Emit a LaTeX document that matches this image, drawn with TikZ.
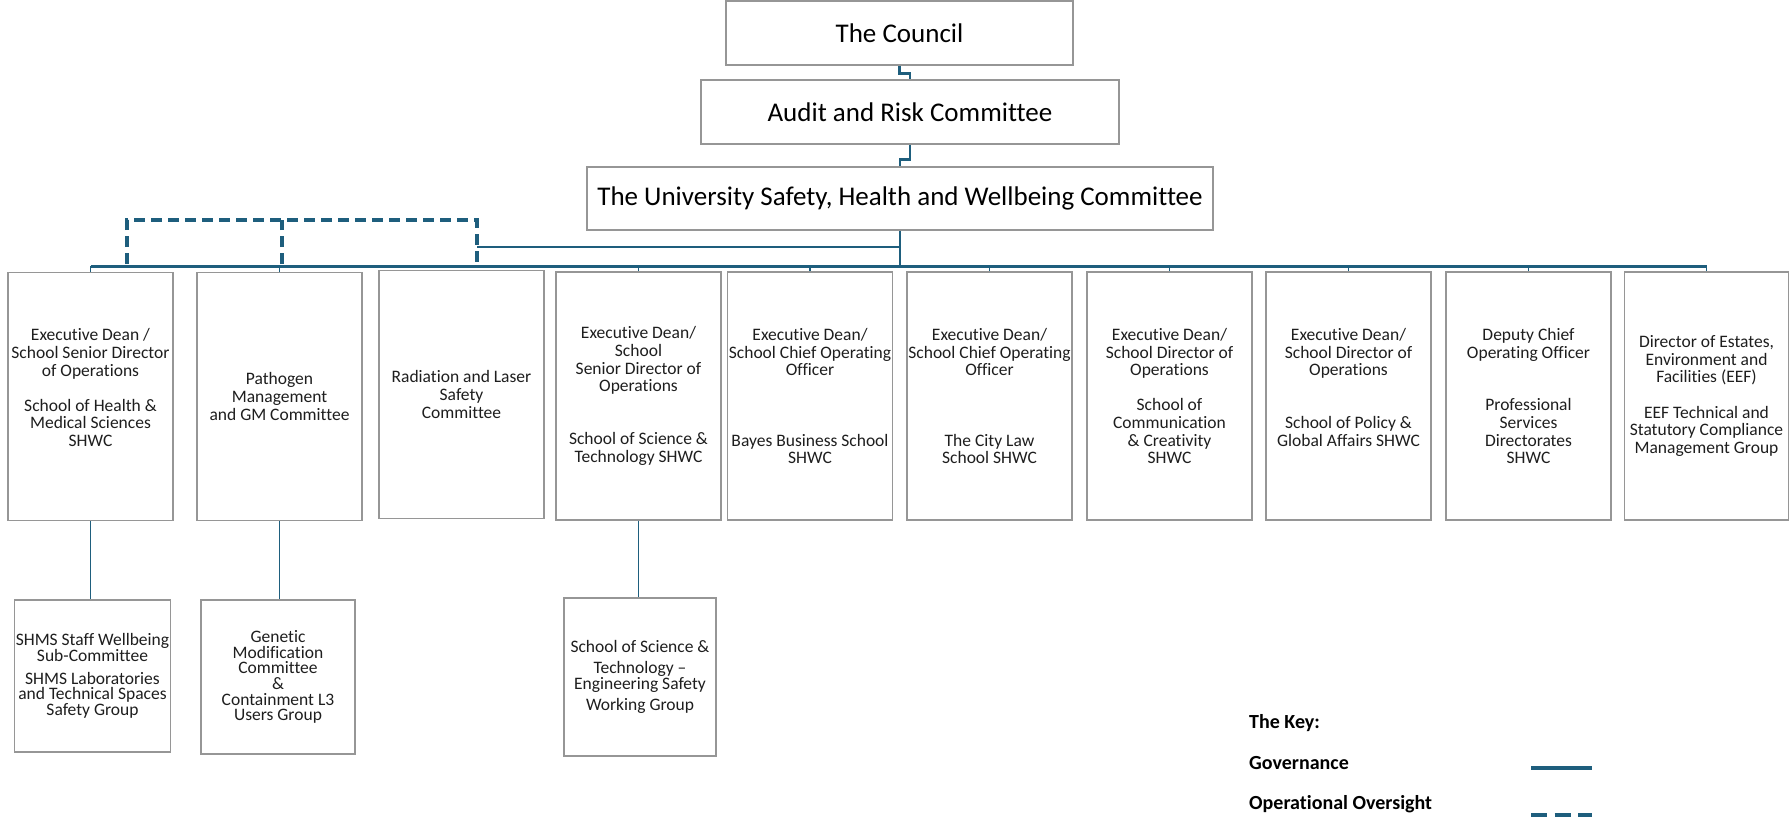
\documentclass[tikz,border=0pt]{standalone}
\usepackage{fontspec}
\setmainfont{Carlito}[Ligatures=NoCommon]
\definecolor{govblue}{RGB}{30,94,125}
\definecolor{boxgray}{RGB}{150,150,150}
\definecolor{inkgray}{RGB}{30,30,30}
\begin{document}
\begin{tikzpicture}[x=1pt,y=-1pt,
  box/.style={draw=boxgray, line width=1.4pt, fill=white, inner sep=0pt,
    align=center, text=inkgray, font=\fontsize{17.5}{17.6}\selectfont},
  topbox/.style={box, text=black, font=\fontsize{27}{30}\selectfont},
  unit/.style={box, minimum width=165pt, minimum height=248pt},
  subunit/.style={box, font=\fontsize{17.5}{15.6}\selectfont},
  gov/.style={draw=govblue, line width=2.6pt},
  govthin/.style={draw=govblue, line width=1.5pt},
  oper/.style={draw=govblue, line width=3.6pt, dash pattern=on 11pt off 6pt},
  keytext/.style={anchor=west, inner sep=0pt, text=black,
    font=\bfseries\fontsize{20}{24}\selectfont}
]
\useasboundingbox (0,0) rectangle (1789,823);

% top of the hierarchy
\node[topbox, minimum width=347pt, minimum height=64pt] (council) at (899.5,33) {The Council};
\node[topbox, minimum width=418pt, minimum height=64pt] (audit) at (910,112) {Audit and Risk Committee};
\node[topbox, minimum width=626pt, minimum height=63pt] (ushwc) at (900,198.5)
  {The University Safety, Health and Wellbeing Committee};

\draw[gov] (council.south) -- ++(0,8) -| (audit.north);
\draw[gov] (audit.south) -- ++(0,15) -| (ushwc.north);

% school / directorate committees
\node[unit] (b1) at (90.5,396.5) {Executive Dean /\\School Senior Director\\of Operations\\[17.6pt]School of Health \&\\Medical Sciences\\SHWC\\~};
\node[unit] (b2) at (279.5,396.5) {Pathogen\\Management\\and GM Committee};
\node[unit] (b3) at (461.5,394.5) {Radiation and Laser\\Safety\\Committee};
\node[unit] (b4) at (638.5,396) {Executive Dean/\\School\\Senior Director of\\Operations\\[35.2pt]School of Science \&\\Technology SHWC};
\node[unit] (b5) at (810,396) {Executive Dean/\\School Chief Operating\\Officer\\[52.8pt]Bayes Business School\\SHWC};
\node[unit] (b6) at (989.5,396) {Executive Dean/\\School Chief Operating\\Officer\\[52.8pt]The City Law\\School SHWC};
\node[unit] (b7) at (1169.5,396) {Executive Dean/\\School Director of\\Operations\\[17.6pt]School of\\Communication\\\& Creativity\\SHWC};
\node[unit] (b8) at (1348.5,396) {Executive Dean/\\School Director of\\Operations\\[35.2pt]School of Policy \&\\Global Affairs SHWC\\~};
\node[unit] (b9) at (1528.5,396) {Deputy Chief\\Operating Officer\\[35.2pt]Professional\\Services\\Directorates\\SHWC};
\node[unit, minimum width=164pt] (b10) at (1706.5,396) {Director of Estates,\\Environment and\\Facilities (EEF)\\[17.6pt]EEF Technical and\\Statutory Compliance\\Management Group};

% sub-groups
\node[subunit, minimum width=156pt, minimum height=152pt] (s1) at (92.5,676)
  {SHMS Staff Wellbeing\\Sub-Committee\\[7pt]SHMS Laboratories\\and Technical Spaces\\Safety Group};
\node[subunit, minimum width=154pt, minimum height=154pt] (s2) at (278,677)
  {Genetic\\Modification\\Committee\\\&\\Containment L3\\Users Group};
\node[subunit, minimum width=152pt, minimum height=158pt] (s3) at (640,677)
  {School of Science \&\\[6pt]Technology --\\Engineering Safety\\[6pt]Working Group};

% governance bus
\coordinate (hub) at (900,266);
\coordinate (midrow) at (0,247);
\coordinate (optop) at (0,220);
\draw[gov] (ushwc.south) -- (hub);
\foreach \b in {b1,b2,b4,b5,b6,b7,b8,b9,b10}
  \draw[govthin] (\b.north |- hub) -- (\b.north);
\draw[gov, line width=3pt] (b1.north |- hub) -- (b10.north |- hub);

% operational oversight links
\coordinate (op1) at (127,264);
\coordinate (op2) at (282,264);
\coordinate (op3) at (477,264);
\draw[oper] (op1) |- (op3 |- optop) -- (op3);
\draw[oper] (op2) -- (op2 |- optop);
\draw[govthin] (op3 |- midrow) -- (hub |- midrow);

% links to sub-groups
\draw[govthin] (b1.south) -- (b1.south |- s1.north);
\draw[govthin] (b2.south) -- (b2.south |- s2.north);
\draw[govthin] (b4.south) -- (b4.south |- s3.north);

% key
\node[keytext] (keyhead) at (1249,723) {The Key:};
\node[keytext] (keygov) at (1249,763) {Governance};
\node[keytext] (keyop) at (1249,804) {Operational Oversight};
\coordinate (g1) at (1531,768);
\coordinate (g2) at (1592,768);
\coordinate (o1) at (1531,815);
\coordinate (o2) at (1592,815);
\draw[gov, line width=3.6pt] (g1) -- (g2);
\draw[oper, dash pattern=on 16pt off 7.5pt] (o1) -- (o2);
\end{tikzpicture}
\end{document}
